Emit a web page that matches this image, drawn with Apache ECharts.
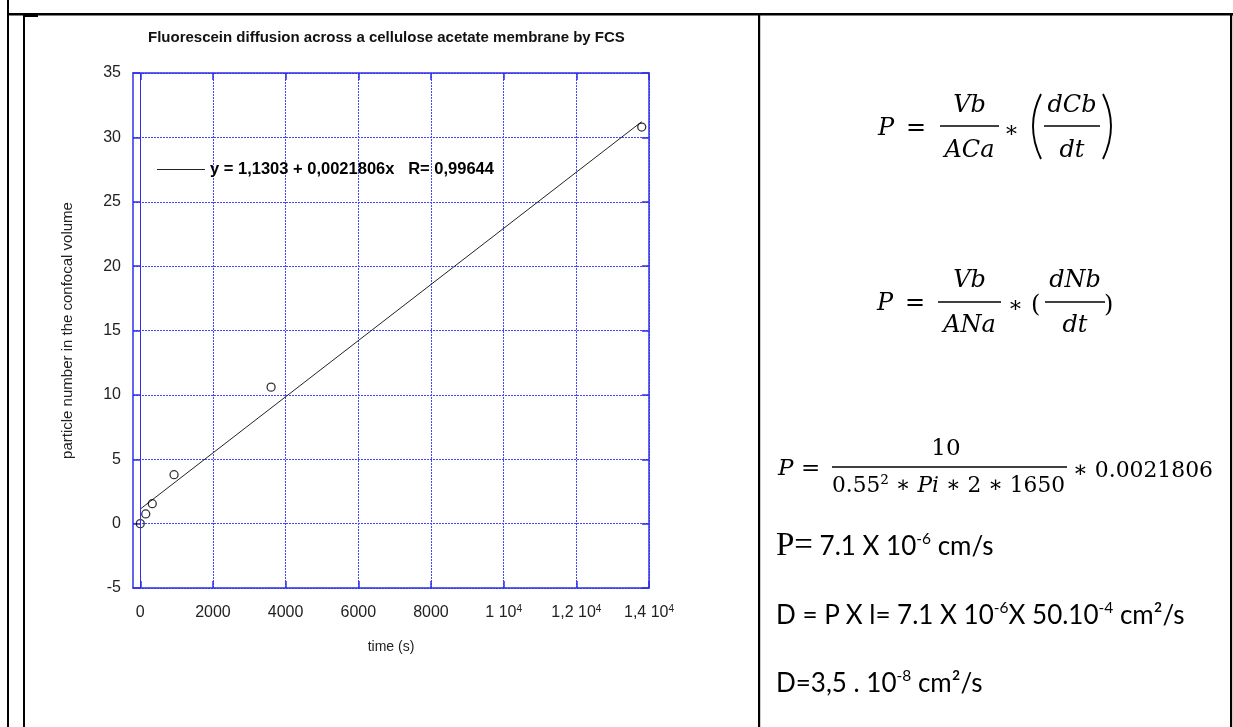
<!DOCTYPE html>
<html>
<head>
<meta charset="utf-8">
<script src="https://cdn.jsdelivr.net/npm/echarts@6/dist/echarts.min.js"></script>
<style>
html,body{margin:0;padding:0;background:#fff;width:1233px;height:727px;overflow:hidden;position:relative;}
#chart{position:absolute;left:0;top:0;width:759px;height:727px;}
#over{position:absolute;left:0;top:0;width:1233px;height:727px;pointer-events:none;}
</style>
</head>
<body>
<div id="chart"></div>
<svg id="over" width="1233" height="727" xmlns="http://www.w3.org/2000/svg">
  <!-- table borders -->
  <rect x="7" y="0" width="2" height="727" fill="#000"/>
  <rect x="7" y="13" width="1226" height="2.5" fill="#000"/>
  <rect x="23" y="14" width="2" height="713" fill="#000"/>
  <rect x="25" y="15" width="13" height="2" fill="#000"/>
  <rect x="758" y="14" width="2.2" height="713" fill="#000"/>
  <rect x="1230" y="13" width="2.2" height="714" fill="#000"/>

  <g font-family="DejaVu Serif" fill="#000">
    <!-- Eq 1 -->
    <text x="878" y="135" font-size="24" font-style="italic">P</text>
    <text x="906" y="135" font-size="24">=</text>
    <text x="969.5" y="112" font-size="24" font-style="italic" text-anchor="middle">Vb</text>
    <line x1="940" y1="126" x2="999" y2="126" stroke="#000" stroke-width="1.7"/>
    <text x="969.5" y="157" font-size="24" font-style="italic" text-anchor="middle">ACa</text>
    <text x="1004" y="137" font-size="22">∗</text>
    <path d="M1041,94 Q1025,126 1041,159" fill="none" stroke="#000" stroke-width="1.9"/>
    <text x="1072" y="112" font-size="24" font-style="italic" text-anchor="middle">dCb</text>
    <line x1="1044" y1="126" x2="1100" y2="126" stroke="#000" stroke-width="1.7"/>
    <text x="1072" y="157" font-size="24" font-style="italic" text-anchor="middle">dt</text>
    <path d="M1103,94 Q1119,126 1103,159" fill="none" stroke="#000" stroke-width="1.9"/>

    <!-- Eq 2 -->
    <text x="877" y="310" font-size="24" font-style="italic">P</text>
    <text x="905" y="310" font-size="24">=</text>
    <text x="969.5" y="287" font-size="24" font-style="italic" text-anchor="middle">Vb</text>
    <line x1="938" y1="302" x2="1001" y2="302" stroke="#000" stroke-width="1.7"/>
    <text x="969.5" y="332" font-size="24" font-style="italic" text-anchor="middle">ANa</text>
    <text x="1008" y="312" font-size="22">∗</text>
    <text x="1031" y="312" font-size="24">(</text>
    <text x="1075" y="287" font-size="24" font-style="italic" text-anchor="middle">dNb</text>
    <line x1="1045" y1="302" x2="1105" y2="302" stroke="#000" stroke-width="1.7"/>
    <text x="1075" y="332" font-size="24" font-style="italic" text-anchor="middle">dt</text>
    <text x="1104" y="312" font-size="24">)</text>

    <!-- Eq 3 -->
    <text x="778" y="475" font-size="23" font-style="italic">P</text>
    <text x="801" y="475" font-size="23">=</text>
    <text x="946" y="455" font-size="23" text-anchor="middle">10</text>
    <line x1="832" y1="467" x2="1067" y2="467" stroke="#000" stroke-width="1.7"/>
    <text x="832" y="492" font-size="23" textLength="233" lengthAdjust="spacingAndGlyphs">0.55² ∗ <tspan font-style="italic">Pi</tspan> ∗ 2 ∗ 1650</text>
    <text x="1073" y="477" font-size="23" textLength="140" lengthAdjust="spacingAndGlyphs">∗ 0.0021806</text>
  </g>

  <g font-family="Lato" fill="#000">
    <text x="776" y="555"><tspan font-family="Liberation Serif" font-size="33">P=</tspan><tspan font-size="26"> 7.1 X 10</tspan><tspan font-size="15.5" dy="-11">-6</tspan><tspan font-size="26" dy="11"> cm/s</tspan></text>
    <text x="776" y="624" font-size="26">D = P X l= 7.1 X 10<tspan font-size="15.5" dy="-11">-6</tspan><tspan dy="11">X 50.10</tspan><tspan font-size="15.5" dy="-11">-4</tspan><tspan dy="11"> cm²/s</tspan></text>
    <text x="776" y="692" font-size="26">D=3,5 . 10<tspan font-size="15.5" dy="-11">-8</tspan><tspan dy="11"> cm²/s</tspan></text>
  </g>
</svg>
<script>
// ---- data ----
const timeS      = [0, 150, 330, 930, 3600, 13800];
const particles  = [0, 0.75, 1.55, 3.8, 10.6, 30.8];
const fitX       = [0, 13800];
const fitY       = [1.13, 31.22];
const xTicks     = [0, 2000, 4000, 6000, 8000, 10000, 12000, 14000];
const xTickLabels= ['0', '2000', '4000', '6000', '8000', '1 10{s|4}', '1,2 10{s|4}', '1,4 10{s|4}'];
const titleText  = 'Fluorescein diffusion across a cellulose acetate membrane by FCS';
const fitLabel   = 'y = 1,1303 + 0,0021806x   R= 0,99644';
const xName      = 'time (s)';
const yName      = 'particle number in the confocal volume';

const BLUE = '#3030e8';
const GRID = '#4646ff';
const FONT = 'Liberation Sans';

const chart = echarts.init(document.getElementById('chart'), null, {renderer: 'canvas'});
const pts = timeS.map((t, i) => [t, particles[i]]);
const fit = fitX.map((t, i) => [t, fitY[i]]);

const gridLine = {show: true, lineStyle: {color: GRID, type: [2, 1], width: 1}};

const xBase = {
  type: 'value', min: -200, max: 14000, gridIndex: 0,
  axisLine: {show: true, onZero: false, lineStyle: {color: BLUE, width: 1.5}},
  axisTick: {show: true, inside: true, length: 7, customValues: xTicks, lineStyle: {color: BLUE, width: 1.5}},
};
const yBase = {
  type: 'value', min: -5, max: 35, interval: 5, gridIndex: 0,
  axisLine: {show: true, onZero: false, lineStyle: {color: BLUE, width: 1.5}},
  axisTick: {show: true, inside: true, length: 7, lineStyle: {color: BLUE, width: 1.5}},
};

chart.setOption({
  animation: false,
  backgroundColor: 'transparent',
  title: {
    text: titleText, left: 148, top: 30, padding: 0,
    textStyle: {fontFamily: FONT, fontSize: 15, fontWeight: 'bold', color: '#111'}
  },
  legend: {
    data: [{name: fitLabel, icon: 'rect'}], left: 157, top: 161, padding: 0,
    itemWidth: 48, itemHeight: 1.2, itemGap: 0,
    itemStyle: {color: '#222'},
    textStyle: {fontFamily: FONT, fontSize: 16.5, fontWeight: 'bold', color: '#000'}
  },
  grid: {left: 133, top: 73, width: 516, height: 515, containLabel: false, outerBoundsMode: 'none'},
  xAxis: [
    Object.assign({}, xBase, {
      position: 'bottom',
      name: xName, nameLocation: 'middle', nameGap: 52,
      nameTextStyle: {fontFamily: FONT, fontSize: 14, color: '#222'},
      axisLabel: {
        show: true, customValues: xTicks, margin: 16,
        fontFamily: FONT, fontSize: 16, color: '#222', lineHeight: 18,
        formatter: v => xTickLabels[xTicks.indexOf(v)],
        rich: {s: {fontFamily: FONT, fontSize: 10, color: '#222', lineHeight: 8, verticalAlign: 'top'}}
      },
      splitLine: gridLine
    }),
    Object.assign({}, xBase, {position: 'top', axisLabel: {show: false}, splitLine: {show: false}})
  ],
  yAxis: [
    Object.assign({}, yBase, {
      position: 'left',
      name: yName, nameLocation: 'middle', nameGap: 58, nameRotate: 90,
      nameTextStyle: {fontFamily: FONT, fontSize: 15, color: '#222'},
      axisLabel: {show: true, margin: 12, fontFamily: FONT, fontSize: 16, color: '#222'},
      splitLine: gridLine
    }),
    Object.assign({}, yBase, {position: 'right', axisLabel: {show: false}, splitLine: {show: false}})
  ],
  series: [
    {
      name: fitLabel, type: 'line', xAxisIndex: 0, yAxisIndex: 0,
      data: fit, symbol: 'none', z: 3,
      lineStyle: {color: '#222', width: 1},
      itemStyle: {color: '#222'}
    },
    {
      name: 'data', type: 'scatter', xAxisIndex: 0, yAxisIndex: 0,
      data: pts, symbol: 'circle', symbolSize: 8, z: 4,
      itemStyle: {color: 'rgba(255,255,255,0)', borderColor: '#000', borderWidth: 1.3},
      markLine: {
        silent: true, symbol: 'none', animation: false,
        label: {show: false},
        lineStyle: {color: BLUE, type: 'solid', width: 1},
        data: [{xAxis: 0}]
      }
    }
  ]
});
</script>
</body>
</html>
